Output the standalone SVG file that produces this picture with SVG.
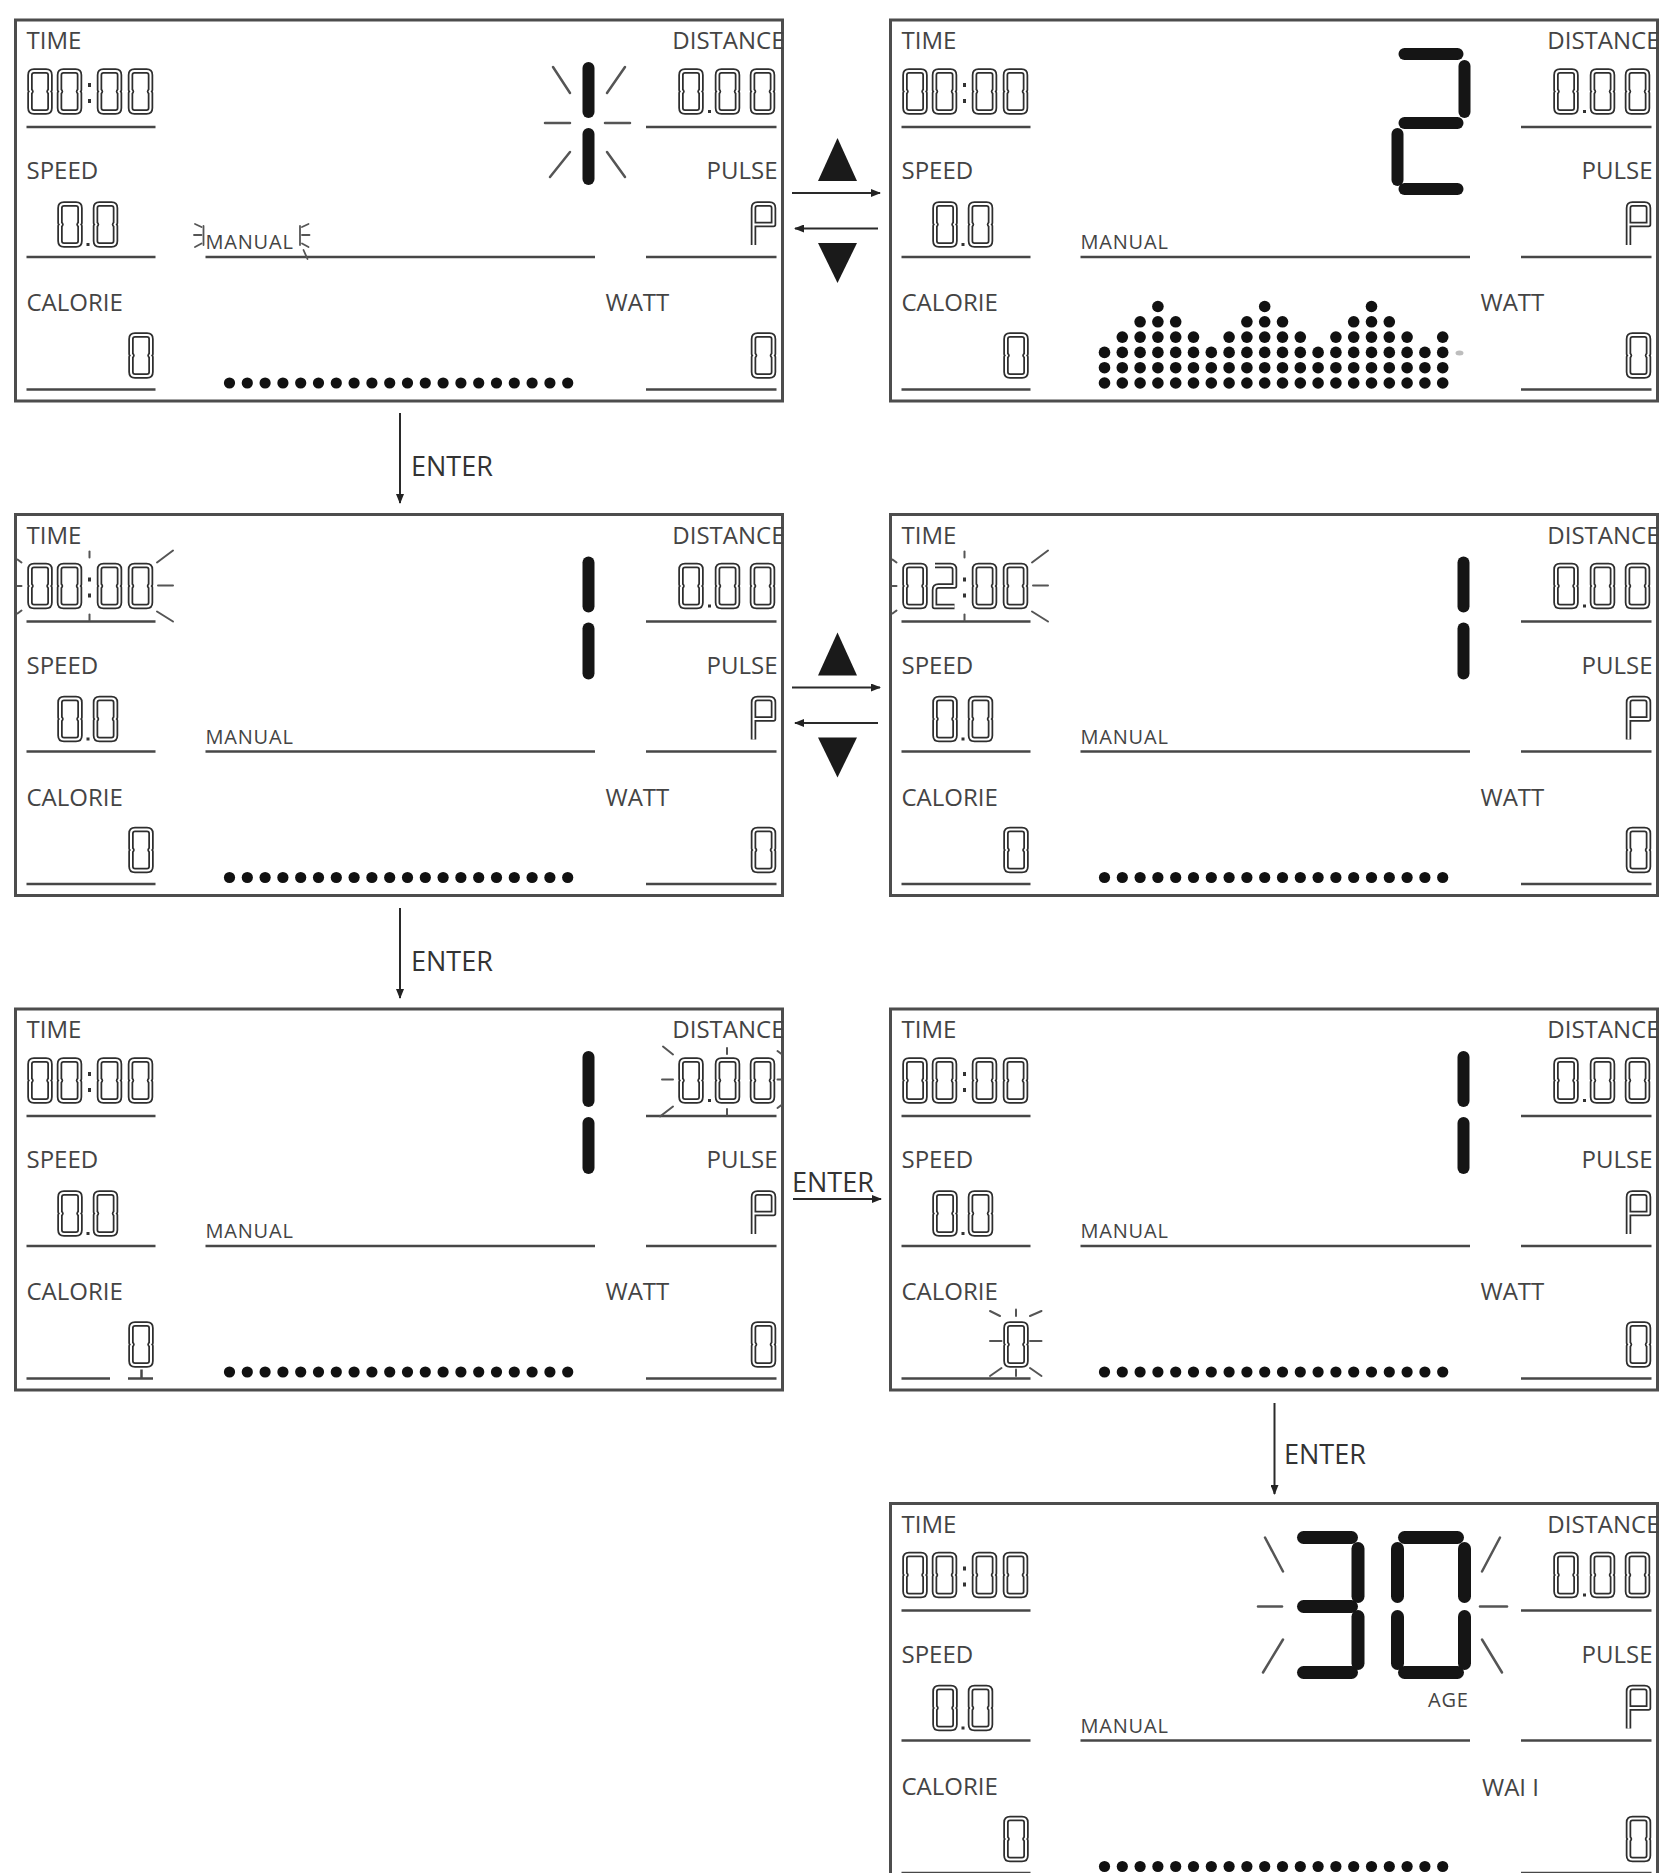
<svg xmlns="http://www.w3.org/2000/svg" width="1659" height="1873" viewBox="0 0 1659 1873">
<style>
.lbl{font-family:"Open Sans","Liberation Sans",sans-serif;font-size:24px;fill:#444}
.sm{font-size:20px;letter-spacing:0.8px}
.enter{font-family:"Open Sans","Liberation Sans",sans-serif;font-size:27px;fill:#333}
.conn{stroke:#2a2a2a;stroke-width:2;fill:none}
.tri{fill:#1a1a1a}
</style>
<defs>
  <marker id="ah" viewBox="0 0 10 8" refX="9" refY="4" markerWidth="10" markerHeight="8" markerUnits="userSpaceOnUse" orient="auto">
    <path d="M0,0 L10,4 L0,8 z" fill="#222"/>
  </marker>
  <!-- hollow LCD digit outlines (26 x 47 cell) -->
  <path id="p0" d="M7,3 H19 Q23,3 23,7 V22 L22,23.5 L23,25 V40 Q23,44 19,44 H7 Q3,44 3,40 V25 L4,23.5 L3,22 V7 Q3,3 7,3 Z"/>
  <path id="p2" d="M3.5,3 H19 Q23,3 23,7 V23.5 H7 Q3,23.5 3,27.5 V44 H23"/>
  <path id="pP" d="M3,44 V7 Q3,3 7,3 H19 Q23,3 23,7 V23.5 H3"/>
  <g id="d0" fill="none" stroke-linejoin="round"><use href="#p0" stroke="#2e2e2e" stroke-width="5.5"/><use href="#p0" stroke="#fff" stroke-width="2"/></g>
  <g id="d2" fill="none" stroke-linejoin="round"><use href="#p2" stroke="#2e2e2e" stroke-width="5.5"/><use href="#p2" stroke="#fff" stroke-width="2"/></g>
  <g id="dP" fill="none" stroke-linejoin="round"><use href="#pP" stroke="#2e2e2e" stroke-width="5.5"/><use href="#pP" stroke="#fff" stroke-width="2"/></g>
  <!-- time digits -->
  <g id="colon" fill="#333"><rect x="72.5" y="63" width="3" height="4"/><rect x="72.5" y="79" width="3" height="4"/></g>
  <g id="t0000"><use href="#d0" x="11.5" y="48"/><use href="#d0" x="41" y="48"/><use href="#colon"/><use href="#d0" x="81" y="48"/><use href="#d0" x="112" y="48"/></g>
  <g id="t0200"><use href="#d0" x="11.5" y="48"/><use href="#d2" x="41" y="48"/><use href="#colon"/><use href="#d0" x="81" y="48"/><use href="#d0" x="112" y="48"/></g>
  <!-- common panel content -->
  <g id="base">
    <rect x="0" y="0" width="767" height="381" fill="#fff" stroke="#4d4d4d" stroke-width="3"/>
    <text class="lbl" x="11" y="29">TIME</text>
    <text class="lbl" x="11" y="159">SPEED</text>
    <text class="lbl" x="11" y="291">CALORIE</text>
    <text class="lbl" x="769" y="29" text-anchor="end">DISTANCE</text>
    <text class="lbl" x="762" y="159" text-anchor="end">PULSE</text>
    <text class="lbl sm" x="190" y="229">MANUAL</text>
    <g stroke="#474747" stroke-width="2.5">
      <line x1="11" y1="107" x2="140" y2="107"/>
      <line x1="11" y1="237" x2="140" y2="237"/>
      <line x1="630.5" y1="107" x2="761" y2="107"/>
      <line x1="630.5" y1="237" x2="761" y2="237"/>
      <line x1="630.5" y1="369.5" x2="761" y2="369.5"/>
      <line x1="190" y1="237" x2="579.5" y2="237"/>
    </g>
    <use href="#d0" x="41.5" y="181"/><rect x="71" y="223" width="3" height="3" fill="#333"/><use href="#d0" x="77" y="181"/>
    <use href="#d0" x="112.5" y="312"/>
    <use href="#d0" x="662.5" y="48"/><rect x="692.5" y="90" width="3" height="3" fill="#333"/><use href="#d0" x="699" y="48"/><use href="#d0" x="734" y="48"/>
    <use href="#dP" x="735" y="181"/>
    <use href="#d0" x="735" y="312"/>
  </g>
  <line id="calul" x1="11" y1="369.5" x2="140" y2="369.5" stroke="#474747" stroke-width="2.5"/>
  <text id="watt" class="lbl" x="590" y="291">WATT</text>
  <g id="row" fill="#111">
    <circle cx="214" cy="363" r="5.6"/><circle cx="231.8" cy="363" r="5.6"/><circle cx="249.6" cy="363" r="5.6"/><circle cx="267.4" cy="363" r="5.6"/><circle cx="285.2" cy="363" r="5.6"/>
    <circle cx="303" cy="363" r="5.6"/><circle cx="320.8" cy="363" r="5.6"/><circle cx="338.6" cy="363" r="5.6"/><circle cx="356.4" cy="363" r="5.6"/><circle cx="374.2" cy="363" r="5.6"/>
    <circle cx="392" cy="363" r="5.6"/><circle cx="409.8" cy="363" r="5.6"/><circle cx="427.6" cy="363" r="5.6"/><circle cx="445.4" cy="363" r="5.6"/><circle cx="463.2" cy="363" r="5.6"/>
    <circle cx="481" cy="363" r="5.6"/><circle cx="498.8" cy="363" r="5.6"/><circle cx="516.6" cy="363" r="5.6"/><circle cx="534.4" cy="363" r="5.6"/><circle cx="552.2" cy="363" r="5.6"/>
  </g>
  <g id="c3" fill="#111"><circle cx="0" cy="363" r="5.8"/><circle cx="0" cy="347.7" r="5.8"/><circle cx="0" cy="332.4" r="5.8"/></g>
  <g id="c4"><use href="#c3"/><circle cx="0" cy="317.1" r="5.8" fill="#111"/></g>
  <g id="c5"><use href="#c4"/><circle cx="0" cy="301.8" r="5.8" fill="#111"/></g>
  <g id="c6"><use href="#c5"/><circle cx="0" cy="286.5" r="5.8" fill="#111"/></g>
  <g id="big1" stroke="#151515" stroke-width="12" stroke-linecap="round">
    <line x1="573" y1="48" x2="573" y2="92"/><line x1="573" y1="114" x2="573" y2="159"/>
  </g>
</defs>

<g id="panel1" transform="translate(15.5,20)">
  <use href="#base"/><use href="#t0000"/><use href="#watt"/><use href="#calul"/><use href="#row"/><use href="#big1"/>
  <g stroke="#555" stroke-width="2.5" stroke-linecap="round">
    <line x1="537.5" y1="47" x2="554.5" y2="73"/><line x1="591.5" y1="73" x2="609.5" y2="47"/>
    <line x1="529.5" y1="103" x2="554.5" y2="103"/><line x1="589.5" y1="103" x2="614.5" y2="103"/>
    <line x1="534.5" y1="157" x2="554.5" y2="132"/><line x1="591.5" y1="132" x2="609.5" y2="157"/>
  </g>
  <g stroke="#555" stroke-width="1.8" stroke-linecap="round">
    <line x1="179.5" y1="204" x2="186" y2="207"/><line x1="178.5" y1="215" x2="186" y2="215"/><line x1="179.5" y1="227" x2="186" y2="223.5"/><line x1="188" y1="206" x2="188" y2="225"/>
    <line x1="293" y1="204" x2="286.5" y2="207"/><line x1="294" y1="215" x2="286.5" y2="215"/><line x1="293" y1="227" x2="286.5" y2="223.5"/><line x1="284.5" y1="206" x2="284.5" y2="225"/>
    <line x1="288" y1="230" x2="292" y2="239"/>
  </g>
</g>

<g id="panel2" transform="translate(890.5,20)">
  <use href="#base"/><use href="#t0000"/><use href="#watt"/><use href="#calul"/>
  <g stroke="#151515" stroke-width="12" stroke-linecap="round">
    <line x1="514" y1="34" x2="567" y2="34"/><line x1="574" y1="46" x2="574" y2="92"/>
    <line x1="514" y1="103" x2="567" y2="103"/><line x1="507" y1="114" x2="507" y2="160"/>
    <line x1="514" y1="169" x2="567" y2="169"/>
  </g>
  <use href="#c3" x="214"/><use href="#c4" x="231.8"/><use href="#c5" x="249.6"/><use href="#c6" x="267.4"/><use href="#c5" x="285.2"/>
  <use href="#c4" x="303"/><use href="#c3" x="320.8"/><use href="#c4" x="338.6"/><use href="#c5" x="356.4"/><use href="#c6" x="374.2"/>
  <use href="#c5" x="392"/><use href="#c4" x="409.8"/><use href="#c3" x="427.6"/><use href="#c4" x="445.4"/><use href="#c5" x="463.2"/>
  <use href="#c6" x="481"/><use href="#c5" x="498.8"/><use href="#c4" x="516.6"/><use href="#c3" x="534.4"/><use href="#c4" x="552.2"/>
  <ellipse cx="569" cy="333" rx="4" ry="2.5" fill="#bdbdbd"/>
</g>

<g id="panel3" transform="translate(15.5,514.5)">
  <use href="#base"/><use href="#t0000"/><use href="#watt"/><use href="#calul"/><use href="#row"/><use href="#big1"/>
  <g stroke="#555" stroke-width="2" stroke-linecap="round">
    <line x1="141.5" y1="48" x2="157.5" y2="36"/><line x1="142.5" y1="71" x2="157.5" y2="71"/><line x1="141.5" y1="97" x2="157.5" y2="107"/>
    <line x1="2" y1="45" x2="6" y2="48"/><line x1="2" y1="71.5" x2="6" y2="71.5"/><line x1="2" y1="99" x2="6" y2="96"/>
    <line x1="74" y1="37" x2="74" y2="43"/><line x1="74" y1="100" x2="74" y2="106"/>
  </g>
</g>

<g id="panel4" transform="translate(890.5,514.5)">
  <use href="#base"/><use href="#t0200"/><use href="#watt"/><use href="#calul"/><use href="#row"/><use href="#big1"/>
  <g stroke="#555" stroke-width="2" stroke-linecap="round">
    <line x1="141.5" y1="48" x2="157.5" y2="36"/><line x1="142.5" y1="71" x2="157.5" y2="71"/><line x1="141.5" y1="97" x2="157.5" y2="107"/>
    <line x1="2" y1="45" x2="6" y2="48"/><line x1="2" y1="71.5" x2="6" y2="71.5"/><line x1="2" y1="99" x2="6" y2="96"/>
    <line x1="74" y1="37" x2="74" y2="43"/><line x1="74" y1="100" x2="74" y2="106"/>
  </g>
</g>

<g id="panel5" transform="translate(15.5,1009)">
  <use href="#base"/><use href="#t0000"/><use href="#watt"/><use href="#row"/><use href="#big1"/>
  <g stroke="#474747" stroke-width="2.5">
    <line x1="11" y1="369.5" x2="94.5" y2="369.5"/><line x1="112.5" y1="369.5" x2="137.5" y2="369.5"/><line x1="126" y1="360.5" x2="126" y2="369.5"/>
  </g>
  <g stroke="#555" stroke-width="2" stroke-linecap="round">
    <line x1="647.5" y1="37.5" x2="657.5" y2="45.5"/><line x1="646.5" y1="70.5" x2="657.5" y2="70.5"/><line x1="644.5" y1="107.5" x2="657.5" y2="97.5"/>
    <line x1="711.5" y1="39" x2="711.5" y2="45"/><line x1="711.5" y1="100" x2="711.5" y2="106"/>
    <line x1="762" y1="42" x2="766" y2="45"/><line x1="762" y1="70.5" x2="766" y2="70.5"/><line x1="762" y1="99" x2="766" y2="96"/>
  </g>
</g>

<g id="panel6" transform="translate(890.5,1009)">
  <use href="#base"/><use href="#t0000"/><use href="#watt"/><use href="#calul"/><use href="#row"/><use href="#big1"/>
  <g stroke="#555" stroke-width="2" stroke-linecap="round">
    <line x1="99.5" y1="302" x2="109.5" y2="307"/><line x1="125.5" y1="300.5" x2="125.5" y2="307"/><line x1="139.5" y1="307" x2="151" y2="302"/>
    <line x1="99.5" y1="332" x2="111" y2="332"/><line x1="139.5" y1="332" x2="151" y2="332"/>
    <line x1="99.5" y1="367" x2="111" y2="359"/><line x1="125.5" y1="360.5" x2="125.5" y2="367"/><line x1="139.5" y1="359" x2="151" y2="367"/>
  </g>
</g>

<g id="panel7" transform="translate(890.5,1503.5)">
  <use href="#base"/><use href="#t0000"/><use href="#calul"/><use href="#row"/>
  <text class="lbl" x="591.5" y="292">WAI I</text>
  <text class="lbl sm" x="537.5" y="203">AGE</text>
  <g stroke="#151515" stroke-width="13" stroke-linecap="round">
    <line x1="413" y1="34" x2="461" y2="34"/><line x1="413" y1="103" x2="461" y2="103"/><line x1="413" y1="169" x2="461" y2="169"/>
    <line x1="467.5" y1="45" x2="467.5" y2="93"/><line x1="467.5" y1="113" x2="467.5" y2="160"/>
    <line x1="514" y1="34" x2="567" y2="34"/><line x1="514" y1="169" x2="567" y2="169"/>
    <line x1="507" y1="45" x2="507" y2="93"/><line x1="507" y1="113" x2="507" y2="160"/>
    <line x1="574" y1="45" x2="574" y2="93"/><line x1="574" y1="113" x2="574" y2="160"/>
  </g>
  <g stroke="#555" stroke-width="2.5" stroke-linecap="round">
    <line x1="374.5" y1="34" x2="392.5" y2="68"/><line x1="367.5" y1="103" x2="391.5" y2="103"/><line x1="372.5" y1="169" x2="392.5" y2="136"/>
    <line x1="591.5" y1="68" x2="609.5" y2="34"/><line x1="589.5" y1="103" x2="616.5" y2="103"/><line x1="591.5" y1="136" x2="611.5" y2="169"/>
  </g>
</g>

<g id="connectors">
  <polygon class="tri" points="837.5,138 818,181 857,181"/>
  <line class="conn" x1="792" y1="193" x2="880" y2="193" marker-end="url(#ah)"/>
  <line class="conn" x1="878" y1="228.5" x2="795" y2="228.5" marker-end="url(#ah)"/>
  <polygon class="tri" points="818,243 857,243 837.5,283"/>

  <polygon class="tri" points="837.5,632.5 818,675.5 857,675.5"/>
  <line class="conn" x1="792" y1="687.5" x2="880" y2="687.5" marker-end="url(#ah)"/>
  <line class="conn" x1="878" y1="723" x2="795" y2="723" marker-end="url(#ah)"/>
  <polygon class="tri" points="818,737.5 857,737.5 837.5,777.5"/>

  <line class="conn" x1="400" y1="413" x2="400" y2="503" marker-end="url(#ah)"/>
  <text class="enter" x="411" y="476">ENTER</text>
  <line class="conn" x1="400" y1="908" x2="400" y2="998" marker-end="url(#ah)"/>
  <text class="enter" x="411" y="971">ENTER</text>
  <line class="conn" x1="793" y1="1199" x2="881" y2="1199" marker-end="url(#ah)"/>
  <text class="enter" x="792" y="1192">ENTER</text>
  <line class="conn" x1="1274.5" y1="1403" x2="1274.5" y2="1494" marker-end="url(#ah)"/>
  <text class="enter" x="1284" y="1464">ENTER</text>
</g>
</svg>
